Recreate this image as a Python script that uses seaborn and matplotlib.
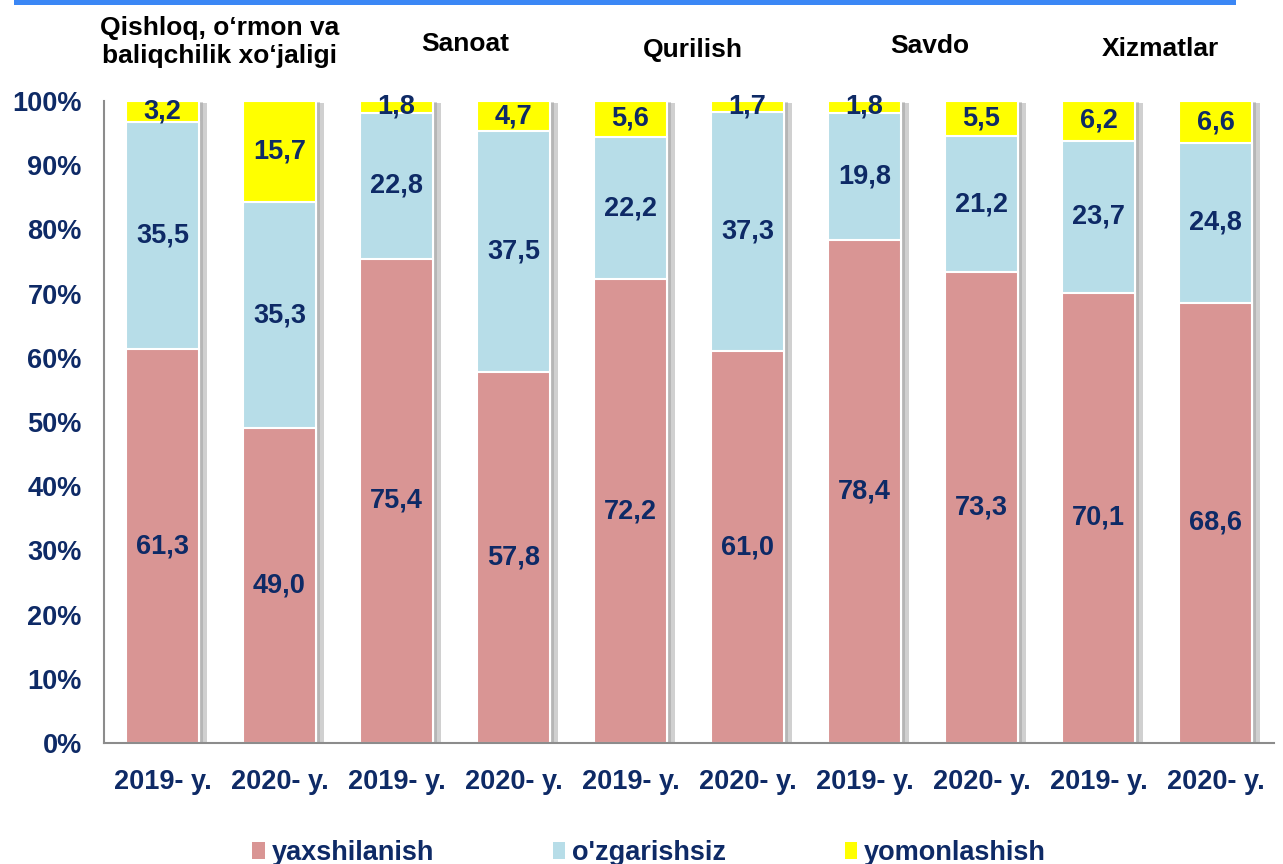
import matplotlib
matplotlib.use("Agg")
import matplotlib.pyplot as plt
import matplotlib.patheffects as pe
from matplotlib.patches import Patch, Rectangle
import seaborn as sns
import pandas as pd
import numpy as np

# ---- data ----
years = ["2019- y.", "2020- y.", "2019- y.", "2020- y.", "2019- y.",
         "2020- y.", "2019- y.", "2020- y.", "2019- y.", "2020- y."]
sectors = ["Qishloq, o‘rmon va\nbaliqchilik xo‘jaligi", "Sanoat", "Qurilish", "Savdo", "Xizmatlar"]
yaxshilanish = [61.3, 49.0, 75.4, 57.8, 72.2, 61.0, 78.4, 73.3, 70.1, 68.6]
ozgarishsiz = [35.5, 35.3, 22.8, 37.5, 22.2, 37.3, 19.8, 21.2, 23.7, 24.8]
yomonlashish = [3.2, 15.7, 1.8, 4.7, 5.6, 1.7, 1.8, 5.5, 6.2, 6.6]
series_names = ["yaxshilanish", "o'zgarishsiz", "yomonlashish"]
yticks = list(range(0, 101, 10))

c_pink = "#d99594"
c_blue = "#b7dde8"
c_yellow = "#ffff00"
navy = "#0e2a66"

sns.set_theme(style="white")
plt.rcParams["font.family"] = ["Liberation Sans", "DejaVu Sans"]
plt.rcParams["font.weight"] = "bold"

ids = [str(i) for i in range(len(years))]
df = pd.DataFrame({
    "id": ids,
    "p1": yaxshilanish,
    "p2": np.array(yaxshilanish) + np.array(ozgarishsiz),
    "p3": np.array(yaxshilanish) + np.array(ozgarishsiz) + np.array(yomonlashish),
})

fig = plt.figure(figsize=(12.83, 8.64), dpi=100)
ax = fig.add_axes([104 / 1283, 121 / 864, 1170 / 1283, 642 / 864])

bw = 0.62
sns.barplot(data=df, x="id", y="p3", order=ids, color=c_yellow, saturation=1,
            width=bw, edgecolor="white", linewidth=1.5, ax=ax)
n_first = len(ax.patches)
for p in ax.patches[:n_first]:
    p.set_path_effects([pe.SimplePatchShadow(offset=(6, -1.5), shadow_rgbFace="#7a7a7a", alpha=0.35),
                        pe.SimplePatchShadow(offset=(3, -1), shadow_rgbFace="#7a7a7a", alpha=0.3),
                        pe.Normal()])
sns.barplot(data=df, x="id", y="p2", order=ids, color=c_blue, saturation=1,
            width=bw, edgecolor="white", linewidth=1.5, ax=ax)
sns.barplot(data=df, x="id", y="p1", order=ids, color=c_pink, saturation=1,
            width=bw, edgecolor="white", linewidth=1.5, ax=ax)

# value labels
fs = 19.5
for i in range(len(years)):
    b0 = 0
    for vals in (yaxshilanish, ozgarishsiz, yomonlashish):
        v = vals[i]
        ax.text(i, b0 + v / 2, f"{v:.1f}".replace(".", ","), ha="center", va="center",
                color=navy, fontsize=fs, fontweight="bold")
        b0 += v

ax.set_xlim(-0.5, len(years) - 0.5)
ax.set_ylim(0, 100)
ax.set_yticks(yticks)
ax.set_yticklabels([f"{t}%" for t in yticks], color=navy, fontsize=fs, fontweight="bold")
ax.set_xticks(range(len(years)))
ax.set_xticklabels(years, color=navy, fontsize=fs, fontweight="bold")
ax.tick_params(axis="y", length=0, pad=16)
ax.tick_params(axis="x", length=0, pad=19)
ax.set_xlabel("")
ax.set_ylabel("")
for s in ["top", "right"]:
    ax.spines[s].set_visible(False)
for s in ["left", "bottom"]:
    ax.spines[s].set_color("#8c8c8c")
    ax.spines[s].set_linewidth(1.5)

# sector headers
hdr_pos = [(220, 42), (465, 44), (693, 50), (930, 46), (1160, 49)]
for name, (x, y) in zip(sectors, hdr_pos):
    fig.text(x / 1283, 1 - y / 864, name, ha="center", va="center", color="black",
             fontsize=19, fontweight="bold", linespacing=1.2)

# top blue bar
fig.add_artist(Rectangle((14 / 1283, 1 - 5 / 864), (1236 - 14) / 1283, 5 / 864,
                         transform=fig.transFigure, color="#3b87f5", lw=0))

# legend
handles = [Patch(facecolor=c, edgecolor="none") for c in (c_pink, c_blue, c_yellow)]
fig.legend(handles, series_names, loc="center", bbox_to_anchor=(0.506, 1 - 853 / 864),
           ncol=3, frameon=False, handlelength=0.45, handleheight=0.6, handletextpad=0.25,
           columnspacing=4.4, prop={"size": fs, "weight": "bold"}, labelcolor=navy)

fig.savefig("out.png", dpi=100)
